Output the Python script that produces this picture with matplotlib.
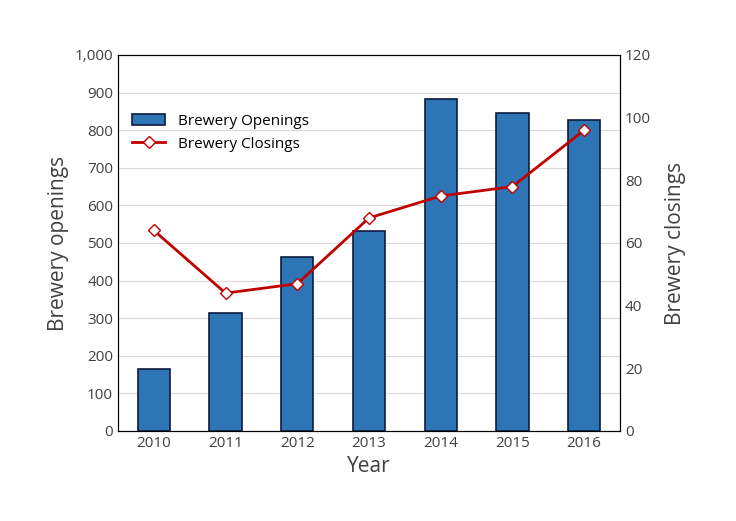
import matplotlib
matplotlib.use("Agg")
import matplotlib.pyplot as plt

plt.rcParams["font.family"] = ["Open Sans", "DejaVu Sans"]

years = ["2010", "2011", "2012", "2013", "2014", "2015", "2016"]
openings = [165, 313, 462, 532, 882, 845, 826]
closings = [64, 44, 47, 68, 75, 78, 96]

fig = plt.figure(figsize=(7.36, 5.21), dpi=100)
ax = fig.add_axes([118 / 736, 90 / 521, 502 / 736, 376 / 521])
x = range(len(years))

ax.bar(x, openings, width=0.45, color="#2E75B6", edgecolor="#0D1B3E",
       linewidth=1.2, label="Brewery Openings", zorder=3)
ax.set_ylim(0, 1000)
ax.set_xlim(-0.5, len(years) - 0.5)
ax.set_yticks(range(0, 1001, 100))
ax.set_yticklabels([f"{v:,}" for v in range(0, 1001, 100)])
ax.set_xticks(list(x))
ax.set_xticklabels(years)
ax.grid(axis="y", color="#D9D9D9", linewidth=0.8, zorder=0)
ax.tick_params(length=0, labelsize=11, colors="#404040")
ax.set_ylabel("Brewery openings", fontsize=15, color="#404040")
ax.set_xlabel("Year", fontsize=15, color="#404040")
for s in ax.spines.values():
    s.set_color("black")

ax2 = ax.twinx()
ax2.plot(x, closings, color="#C00000", linewidth=2, marker="D", markersize=6,
         markerfacecolor="white", markeredgecolor="#C00000", label="Brewery Closings", zorder=4)
ax2.set_ylim(0, 120)
ax2.set_yticks(range(0, 121, 20))
ax2.tick_params(length=0, labelsize=11, colors="#404040")
ax2.set_ylabel("Brewery closings", fontsize=15, color="#404040", labelpad=10)

h1, l1 = ax.get_legend_handles_labels()
h2, l2 = ax2.get_legend_handles_labels()
ax2.legend(h1 + h2, l1 + l2, loc="upper left", bbox_to_anchor=(0.0, 0.88),
           frameon=False, fontsize=11, handlelength=2.2)

fig.savefig("out.png")
